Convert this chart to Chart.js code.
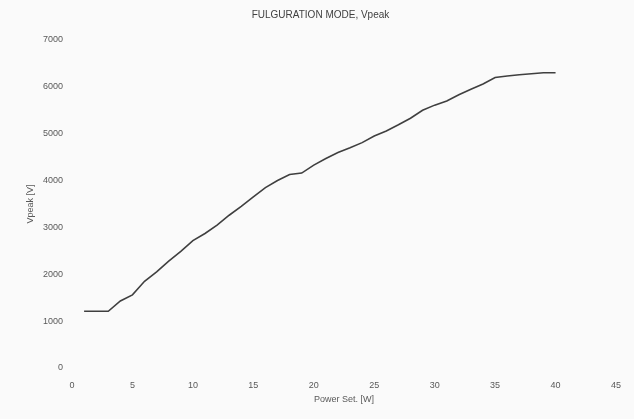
<!DOCTYPE html>
<html>
<head>
<meta charset="utf-8">
<script src="https://cdn.jsdelivr.net/npm/chart.js@4.4.1/dist/chart.umd.min.js"></script>
<style>
    html, body { margin: 0; padding: 0; background: #fafafa; }
    #wrap { width: 634px; height: 419px; }
</style>
</head>
<body>
<div id="wrap"><canvas id="chart" width="634" height="419"></canvas></div>
<script>
const powerSet = [1, 2, 3, 4, 5, 6, 7, 8, 9, 10,
    11, 12, 13, 14, 15, 16, 17, 18, 19, 20,
    21, 22, 23, 24, 25, 26, 27, 28, 29, 30,
    31, 32, 33, 34, 35, 36, 37, 38, 39, 40];
const vpeak = [1210, 1210, 1210, 1430, 1560, 1850, 2050, 2280, 2490, 2720,
    2870, 3050, 3260, 3450, 3650, 3850, 4000, 4130, 4160, 4330,
    4470, 4600, 4700, 4810, 4950, 5060, 5190, 5330, 5500, 5610,
    5700, 5830, 5950, 6060, 6200, 6230, 6260, 6280, 6300, 6300];
const xTicks = [0, 5, 10, 15, 20, 25, 30, 35, 40, 45];
const yTicks = [0, 1000, 2000, 3000, 4000, 5000, 6000, 7000];

Chart.defaults.font.family = "'Liberation Sans', Arial, sans-serif";
Chart.defaults.color = '#595959';

const points = powerSet.map((x, i) => ({ x: x, y: vpeak[i] }));

new Chart(document.getElementById('chart'), {
    type: 'line',
    data: {
        datasets: [{
            label: 'Vpeak',
            data: points,
            borderColor: '#3f3f3f',
            borderWidth: 1.6,
            pointRadius: 0,
            tension: 0,
            fill: false
        }]
    },
    options: {
        responsive: false,
        animation: false,
        layout: { padding: { left: 25, right: 18, top: 0, bottom: 14 } },
        plugins: {
            legend: { display: false },
            tooltip: { enabled: false },
            title: {
                display: true,
                text: 'FULGURATION MODE, Vpeak',
                color: '#404040',
                font: { size: 10, weight: 'normal' },
                padding: { top: 9, bottom: 19 }
            }
        },
        scales: {
            x: {
                type: 'linear',
                min: 0,
                max: 45,
                afterBuildTicks: (scale) => { scale.ticks = xTicks.map(v => ({ value: v })); },
                ticks: { font: { size: 9 }, padding: 12, maxRotation: 0, callback: (v) => String(v) },
                grid: { display: false, drawTicks: false },
                border: { display: false },
                title: { display: true, text: 'Power Set. [W]', font: { size: 9 }, padding: { top: 2, bottom: 0 } },
                afterFit: (scale) => { scale.height = 37; }
            },
            y: {
                min: 0,
                max: 7000,
                afterBuildTicks: (scale) => { scale.ticks = yTicks.map(v => ({ value: v })); },
                ticks: { font: { size: 9 }, padding: 9, callback: (v) => String(v) },
                grid: { display: false, drawTicks: false },
                border: { display: false },
                title: { display: true, text: 'Vpeak [V]', font: { size: 9 }, padding: { top: 0, bottom: 4 } },
                afterFit: (scale) => { scale.width = 47; }
            }
        }
    }
});
</script>
</body>
</html>
